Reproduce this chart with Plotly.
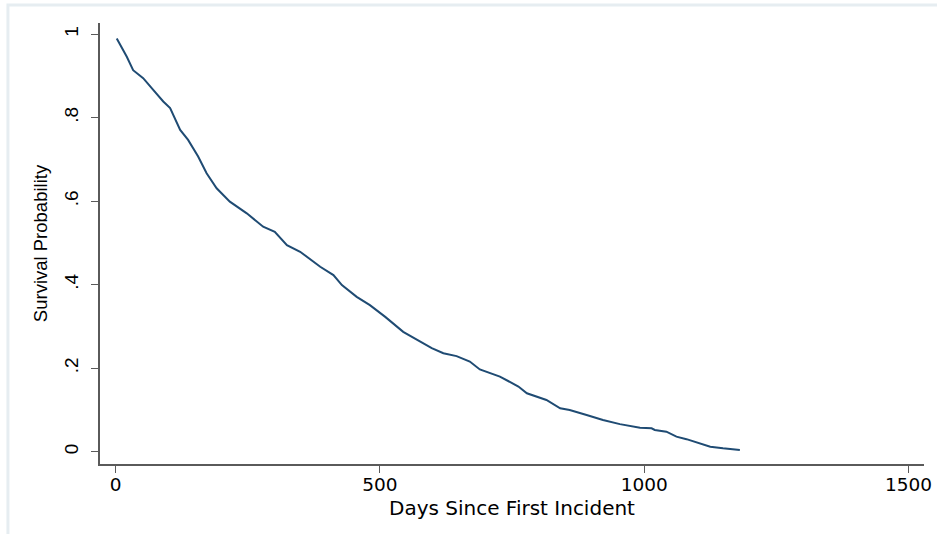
import plotly.graph_objects as go

days = [2, 21, 33, 52, 71, 90, 103, 122, 137, 156, 172, 191, 216, 248, 279, 301,
        324, 349, 387, 412, 428, 456, 481, 510, 544, 569, 598, 620, 645, 670, 689,
        727, 762, 778, 815, 841, 859, 891, 922, 954, 992, 1014, 1020, 1042, 1061,
        1080, 1106, 1125, 1149, 1168, 1181]
survival = [0.990, 0.946, 0.914, 0.895, 0.867, 0.839, 0.823, 0.771, 0.747, 0.707,
            0.667, 0.631, 0.599, 0.571, 0.539, 0.527, 0.495, 0.479, 0.443, 0.423,
            0.399, 0.371, 0.351, 0.323, 0.287, 0.268, 0.248, 0.236, 0.229, 0.216,
            0.197, 0.180, 0.156, 0.140, 0.124, 0.104, 0.100, 0.088, 0.076, 0.066,
            0.0575, 0.056, 0.052, 0.048, 0.036, 0.030, 0.020, 0.012, 0.008, 0.005,
            0.004]

x_ticks = [0, 500, 1000, 1500]
x_tick_labels = ["0", "500", "1000", "1500"]
y_ticks = [0, 0.2, 0.4, 0.6, 0.8, 1.0]
y_tick_labels = ["0", ".2", ".4", ".6", ".8", "1"]
x_title = "Days Since First Incident"
y_title = "Survival Probability"

FONT = "Liberation Sans, Arial, Helvetica, sans-serif"
WIDE_FONT = "DejaVu Sans, Verdana, sans-serif"
AXIS_COLOR = "#5a5a5a"

fig = go.Figure()
fig.add_trace(go.Scatter(
    x=days, y=survival, mode="lines",
    line=dict(color="#1f4b73", width=2),
    showlegend=False, hoverinfo="skip",
))

fig.update_layout(
    width=937, height=534,
    margin=dict(l=100, r=13, t=23, b=70),
    paper_bgcolor="white", plot_bgcolor="white",
    font=dict(family=FONT, size=17, color="black"),
    shapes=[dict(type="rect", xref="paper", yref="paper",
                 x0=-0.1117, x1=1.0185, y0=-0.17, y1=1.0408,
                 line=dict(color="#e6edf1", width=3), layer="below")],
    annotations=[dict(text=x_title, xref="paper", yref="paper",
                      x=0.5, y=-0.099, xanchor="center", yanchor="middle",
                      showarrow=False,
                      font=dict(family=WIDE_FONT, size=20, color="black"))],
)

fig.update_xaxes(
    range=[-29.7, 1529.4], tickvals=x_ticks, ticktext=x_tick_labels,
    automargin=False,
    showgrid=False, zeroline=False, showline=True, linecolor=AXIS_COLOR,
    linewidth=1.5, ticks="outside", ticklen=7, tickwidth=1.2,
    tickcolor=AXIS_COLOR, tickfont=dict(family=WIDE_FONT, size=18.5),
    ticklabelstandoff=-4,
)
fig.update_yaxes(
    range=[-0.0295, 1.027], tickvals=y_ticks, ticktext=y_tick_labels,
    automargin=False,
    showgrid=False, zeroline=False, showline=True, linecolor=AXIS_COLOR,
    linewidth=1.5, ticks="outside", ticklen=7, tickwidth=1.2,
    tickcolor=AXIS_COLOR, tickangle=-90, tickfont=dict(size=19),
    ticklabelstandoff=6,
    title=dict(text=y_title, font=dict(size=18.5), standoff=8),
)

fig.write_html("out.html")
